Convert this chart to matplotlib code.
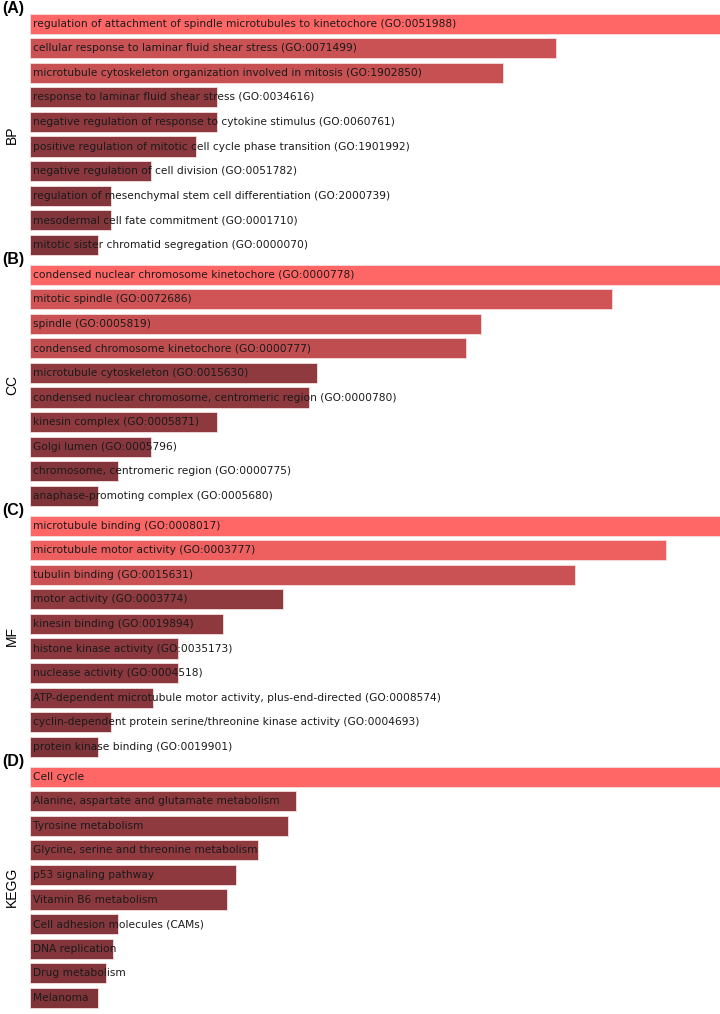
import matplotlib.pyplot as plt
import numpy as np
from matplotlib.colors import to_rgb

bp_terms = [
    "regulation of attachment of spindle microtubules to kinetochore (GO:0051988)",
    "cellular response to laminar fluid shear stress (GO:0071499)",
    "microtubule cytoskeleton organization involved in mitosis (GO:1902850)",
    "response to laminar fluid shear stress (GO:0034616)",
    "negative regulation of response to cytokine stimulus (GO:0060761)",
    "positive regulation of mitotic cell cycle phase transition (GO:1901992)",
    "negative regulation of cell division (GO:0051782)",
    "regulation of mesenchymal stem cell differentiation (GO:2000739)",
    "mesodermal cell fate commitment (GO:0001710)",
    "mitotic sister chromatid segregation (GO:0000070)",
]
bp_scores = [690, 526, 473, 187, 187, 166, 121, 81, 81, 68]
bp_shade = [1.0, 0.6, 0.57, 0.14, 0.14, 0.12, 0.1, 0.06, 0.06, 0.04]

cc_terms = [
    "condensed nuclear chromosome kinetochore (GO:0000778)",
    "mitotic spindle (GO:0072686)",
    "spindle (GO:0005819)",
    "condensed chromosome kinetochore (GO:0000777)",
    "microtubule cytoskeleton (GO:0015630)",
    "condensed nuclear chromosome, centromeric region (GO:0000780)",
    "kinesin complex (GO:0005871)",
    "Golgi lumen (GO:0005796)",
    "chromosome, centromeric region (GO:0000775)",
    "anaphase-promoting complex (GO:0005680)",
]
cc_scores = [690, 582, 451, 436, 287, 279, 187, 121, 88, 68]
cc_shade = [1.0, 0.65, 0.57, 0.53, 0.16, 0.14, 0.14, 0.1, 0.06, 0.04]

mf_terms = [
    "microtubule binding (GO:0008017)",
    "microtubule motor activity (GO:0003777)",
    "tubulin binding (GO:0015631)",
    "motor activity (GO:0003774)",
    "kinesin binding (GO:0019894)",
    "histone kinase activity (GO:0035173)",
    "nuclease activity (GO:0004518)",
    "ATP-dependent microtubule motor activity, plus-end-directed (GO:0008574)",
    "cyclin-dependent protein serine/threonine kinase activity (GO:0004693)",
    "protein kinase binding (GO:0019901)",
]
mf_scores = [690, 636, 545, 253, 193, 148, 148, 123, 81, 68]
mf_shade = [1.0, 0.87, 0.6, 0.16, 0.14, 0.12, 0.12, 0.1, 0.06, 0.04]

kegg_terms = [
    "Cell cycle",
    "Alanine, aspartate and glutamate metabolism",
    "Tyrosine metabolism",
    "Glycine, serine and threonine metabolism",
    "p53 signaling pathway",
    "Vitamin B6 metabolism",
    "Cell adhesion molecules (CAMs)",
    "DNA replication",
    "Drug metabolism",
    "Melanoma",
]
kegg_scores = [690, 266, 258, 228, 206, 197, 88, 83, 76, 68]
kegg_shade = [1.0, 0.16, 0.16, 0.15, 0.14, 0.13, 0.07, 0.06, 0.05, 0.04]

panels = [
    ("(A)", "BP", bp_terms, bp_scores, bp_shade),
    ("(B)", "CC", cc_terms, cc_scores, cc_shade),
    ("(C)", "MF", mf_terms, mf_scores, mf_shade),
    ("(D)", "KEGG", kegg_terms, kegg_scores, kegg_shade),
]

dark = np.array(to_rgb("#7a3238"))
light = np.array(to_rgb("#ff6666"))

W, H = 720, 1014
fig = plt.figure(figsize=(W / 100, H / 100), dpi=100)

pitch = 24.55
for i, (tag, name, terms, scores, shade) in enumerate(panels):
    top = 11.5 + i * 251
    ax = fig.add_axes([30 / W, 1 - (top + 10 * pitch) / H, 690 / W, 10 * pitch / H])
    y = np.arange(len(terms))
    cols = [dark + s * (light - dark) for s in shade]
    ax.barh(y, scores, height=0.82, color=cols, edgecolor="#f4dede", linewidth=0.6)
    for yy, t in zip(y, terms):
        ax.text(3, yy, t, va="center", ha="left", fontsize=7.7, color="#1a1a1a",
                family="DejaVu Sans")
    ax.set_xlim(0, max(scores))
    ax.set_ylim(len(terms) - 0.5, -0.5)
    ax.axis("off")
    fig.text(2 / W, 1 - (top - 3) / H, tag, fontsize=11.5, fontweight="bold",
             family="Liberation Sans", va="center", ha="left")
    fig.text(12 / W, 1 - (top + 5 * pitch) / H, name, fontsize=10, rotation=90,
             family="Liberation Sans", va="center", ha="center")

fig.savefig("out.png", dpi=100)
